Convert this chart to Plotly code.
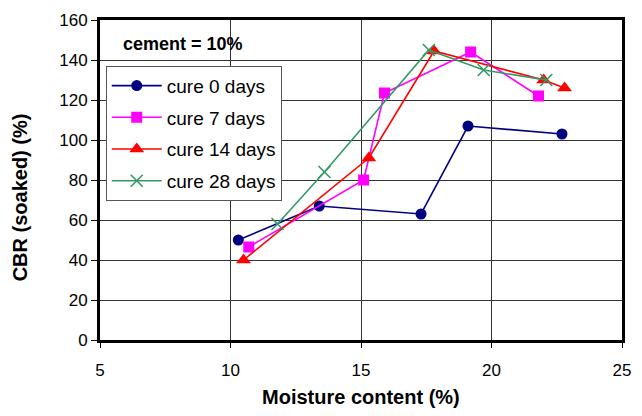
import plotly.graph_objects as go

FONT = "Liberation Sans, Arial, sans-serif"

series_names = ["cure 0 days", "cure 7 days", "cure 14 days", "cure 28 days"]
x0 = [10.3, 13.4, 17.3, 19.1, 22.7]
y0 = [50, 67, 63, 107, 103]
x7 = [10.7, 15.1, 15.9, 19.2, 21.8]
y7 = [46.5, 80, 123.5, 144, 122]
x14 = [10.5, 15.3, 17.8, 22.0, 22.8]
y14 = [40, 91, 144.5, 130, 126]
x28 = [11.8, 13.6, 17.6, 19.7, 22.1]
y28 = [58, 84, 145, 135, 130]
x_ticks = [5, 10, 15, 20, 25]
y_ticks = [0, 20, 40, 60, 80, 100, 120, 140, 160]

colors = ["#000080", "#FF00FF", "#FF0000", "#339966"]
symbols = ["circle", "square", "triangle-up", "x-thin"]
sizes = [11, 11, 13, 12]
xs = [x0, x7, x14, x28]
ys = [y0, y7, y14, y28]

fig = go.Figure()
for i in range(4):
    marker = dict(symbol=symbols[i], size=sizes[i], color=colors[i])
    if symbols[i] == "x-thin":
        marker["line"] = dict(color=colors[i], width=1.6)
    fig.add_trace(go.Scatter(
        x=xs[i], y=ys[i], mode="lines+markers", name=series_names[i],
        line=dict(color=colors[i], width=1.6), marker=marker,
        legendgroup="g%d" % i,
    ))

fig.update_layout(
    width=642, height=416,
    margin=dict(l=100, r=11, t=18, b=76),
    paper_bgcolor="white", plot_bgcolor="white",
    font=dict(family=FONT, size=17, color="black"),
    showlegend=True,
    legend=dict(
        x=0.011, y=0.857, xanchor="left", yanchor="top",
        bgcolor="white", bordercolor="#555555", borderwidth=1,
        font=dict(family=FONT, size=19, color="black"),
        traceorder="grouped", tracegroupgap=4, itemwidth=50,
    ),
    xaxis=dict(
        range=[5, 25], tickvals=x_ticks, ticktext=[str(v) for v in x_ticks],
        showgrid=True, gridcolor="#333333", gridwidth=1,
        showline=True, linecolor="black", linewidth=3, mirror=True,
        ticks="outside", ticklen=5, tickwidth=1, tickcolor="black",
        ticklabelstandoff=8, zeroline=False,
    ),
    yaxis=dict(
        range=[0, 160], tickvals=y_ticks, ticktext=[str(v) for v in y_ticks],
        showgrid=True, gridcolor="#333333", gridwidth=1,
        showline=True, linecolor="black", linewidth=3, mirror=True,
        ticks="outside", ticklen=6, tickwidth=1, tickcolor="black",
        zeroline=False,
    ),
    annotations=[
        dict(text="<b>cement = 10%</b>", x=0.0395, y=0.925, xref="paper", yref="paper",
             xanchor="left", yanchor="middle", showarrow=False,
             font=dict(family=FONT, size=18, color="black")),
        dict(text="<b>Moisture content (%)</b>", x=0.5, y=-0.177, xref="paper", yref="paper",
             xanchor="center", yanchor="middle", showarrow=False,
             font=dict(family=FONT, size=20, color="black")),
        dict(text="<b>CBR (soaked) (%)</b>", x=-0.1525, y=0.447, xref="paper", yref="paper",
             xanchor="center", yanchor="middle", showarrow=False, textangle=-90,
             font=dict(family=FONT, size=20, color="black")),
    ],
)

fig.write_html("out.html")
